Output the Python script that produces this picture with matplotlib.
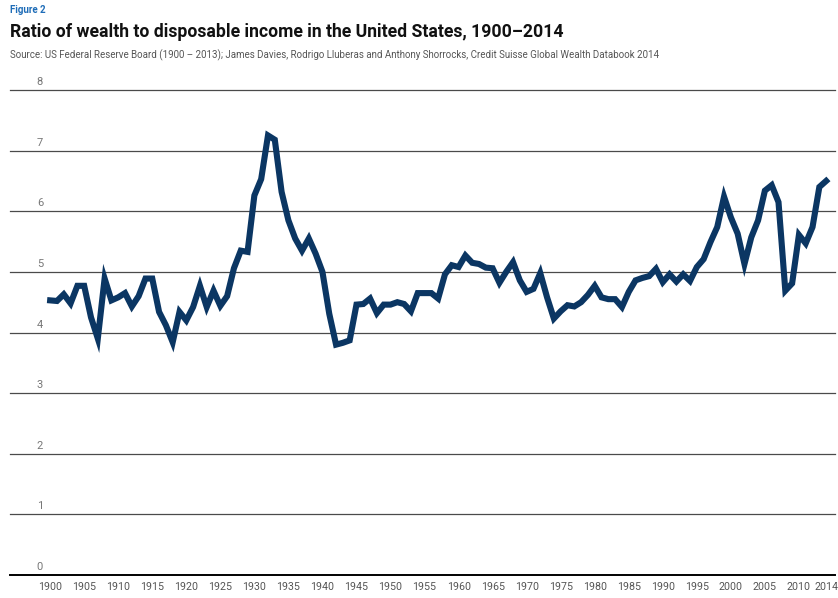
import numpy as np
import matplotlib.pyplot as plt
import matplotlib.transforms as mtransforms

# Wealth / disposable income ratio
years = np.arange(1900, 2015)
ratio = [
    4.53, 4.52, 4.63, 4.48, 4.77, 4.77, 4.25, 3.90, 4.89, 4.53,   # 1900s
    4.58, 4.65, 4.43, 4.60, 4.89, 4.89, 4.34, 4.12, 3.84, 4.34,   # 1910s
    4.20, 4.42, 4.77, 4.42, 4.69, 4.44, 4.60, 5.06, 5.35, 5.33,   # 1920s
    6.26, 6.53, 7.25, 7.18, 6.32, 5.85, 5.55, 5.35, 5.55, 5.30,   # 1930s
    5.00, 4.31, 3.80, 3.83, 3.87, 4.46, 4.47, 4.56, 4.32, 4.46,   # 1940s
    4.46, 4.50, 4.47, 4.35, 4.65, 4.65, 4.65, 4.56, 4.96, 5.11,   # 1950s
    5.08, 5.27, 5.15, 5.13, 5.07, 5.06, 4.82, 5.00, 5.16, 4.86,   # 1960s
    4.67, 4.72, 4.98, 4.58, 4.23, 4.35, 4.45, 4.43, 4.50, 4.62,   # 1970s
    4.77, 4.58, 4.55, 4.55, 4.42, 4.67, 4.86, 4.90, 4.93, 5.05,   # 1980s
    4.83, 4.96, 4.84, 4.96, 4.85, 5.08, 5.21, 5.49, 5.74, 6.24,   # 1990s
    5.90, 5.63, 5.13, 5.57, 5.85, 6.34, 6.43, 6.15, 4.69, 4.81,   # 2000s
    5.61, 5.47, 5.74, 6.40, 6.50,                                 # 2010s
]
assert len(ratio) == len(years)

xtick_years = list(range(1900, 2015, 5)) + [2014]
ytick_vals = list(range(0, 9))

title = "Ratio of wealth to disposable income in the United States, 1900\u20132014"
source = ("Source: US Federal Reserve Board (1900 \u2013 2013); James Davies, Rodrigo Lluberas "
          "and Anthony Shorrocks, Credit Suisse Global Wealth Databook 2014")

plt.rcParams['font.family'] = ['Roboto', 'DejaVu Sans']

fig = plt.figure(figsize=(8.38, 5.98), dpi=100)
W, H = 838, 598
ax = fig.add_axes([10 / W, (H - 575) / H, 825 / W, 485 / H])

line_col = '#0b3663'
ax.plot(years, ratio, color=line_col, lw=4.4, solid_joinstyle='miter', zorder=3)

ax.set_xlim(1894.1, 2015.3)
ax.set_ylim(0, 8)

# horizontal rules
for v in ytick_vals:
    if v == 0:
        ax.axhline(v, color='black', lw=1.4, zorder=2, clip_on=False)
    else:
        ax.axhline(v, color='#4a4a4a', lw=0.9, zorder=1, clip_on=False)

for s in ax.spines.values():
    s.set_visible(False)
ax.set_yticks([])
ax.set_xticks(xtick_years)
ax.set_xticklabels([str(y) for y in xtick_years], fontsize=7.7, color='#555555')
ax.tick_params(axis='x', length=0, pad=5)

# y labels sit just above each rule
off = mtransforms.offset_copy(ax.transData, fig=fig, x=0, y=3, units='dots')
for v in ytick_vals:
    ax.text(1898.5, v, str(v), transform=off, ha='center', va='bottom',
            fontsize=8, color='#777777')

fig.text(10 / W, 1 - 10 / H, "Figure 2", fontsize=7, fontweight='bold',
         color='#1f6db8', va='center', ha='left')
t = fig.text(10 / W, 1 - 32 / H, title, fontsize=13, fontweight='bold',
             color='#111111', va='center', ha='left')
s = fig.text(10 / W, 1 - 55 / H, source, fontsize=6.5, color='#555555',
             va='center', ha='left')

# fit header texts to the widths seen in the original
r = fig.canvas.get_renderer()
for txt, target in [(t, 552), (s, 650)]:
    w = txt.get_window_extent(renderer=r).width
    txt.set_fontsize(txt.get_fontsize() * target / w)

fig.savefig('out.png', dpi=100, facecolor='white')
